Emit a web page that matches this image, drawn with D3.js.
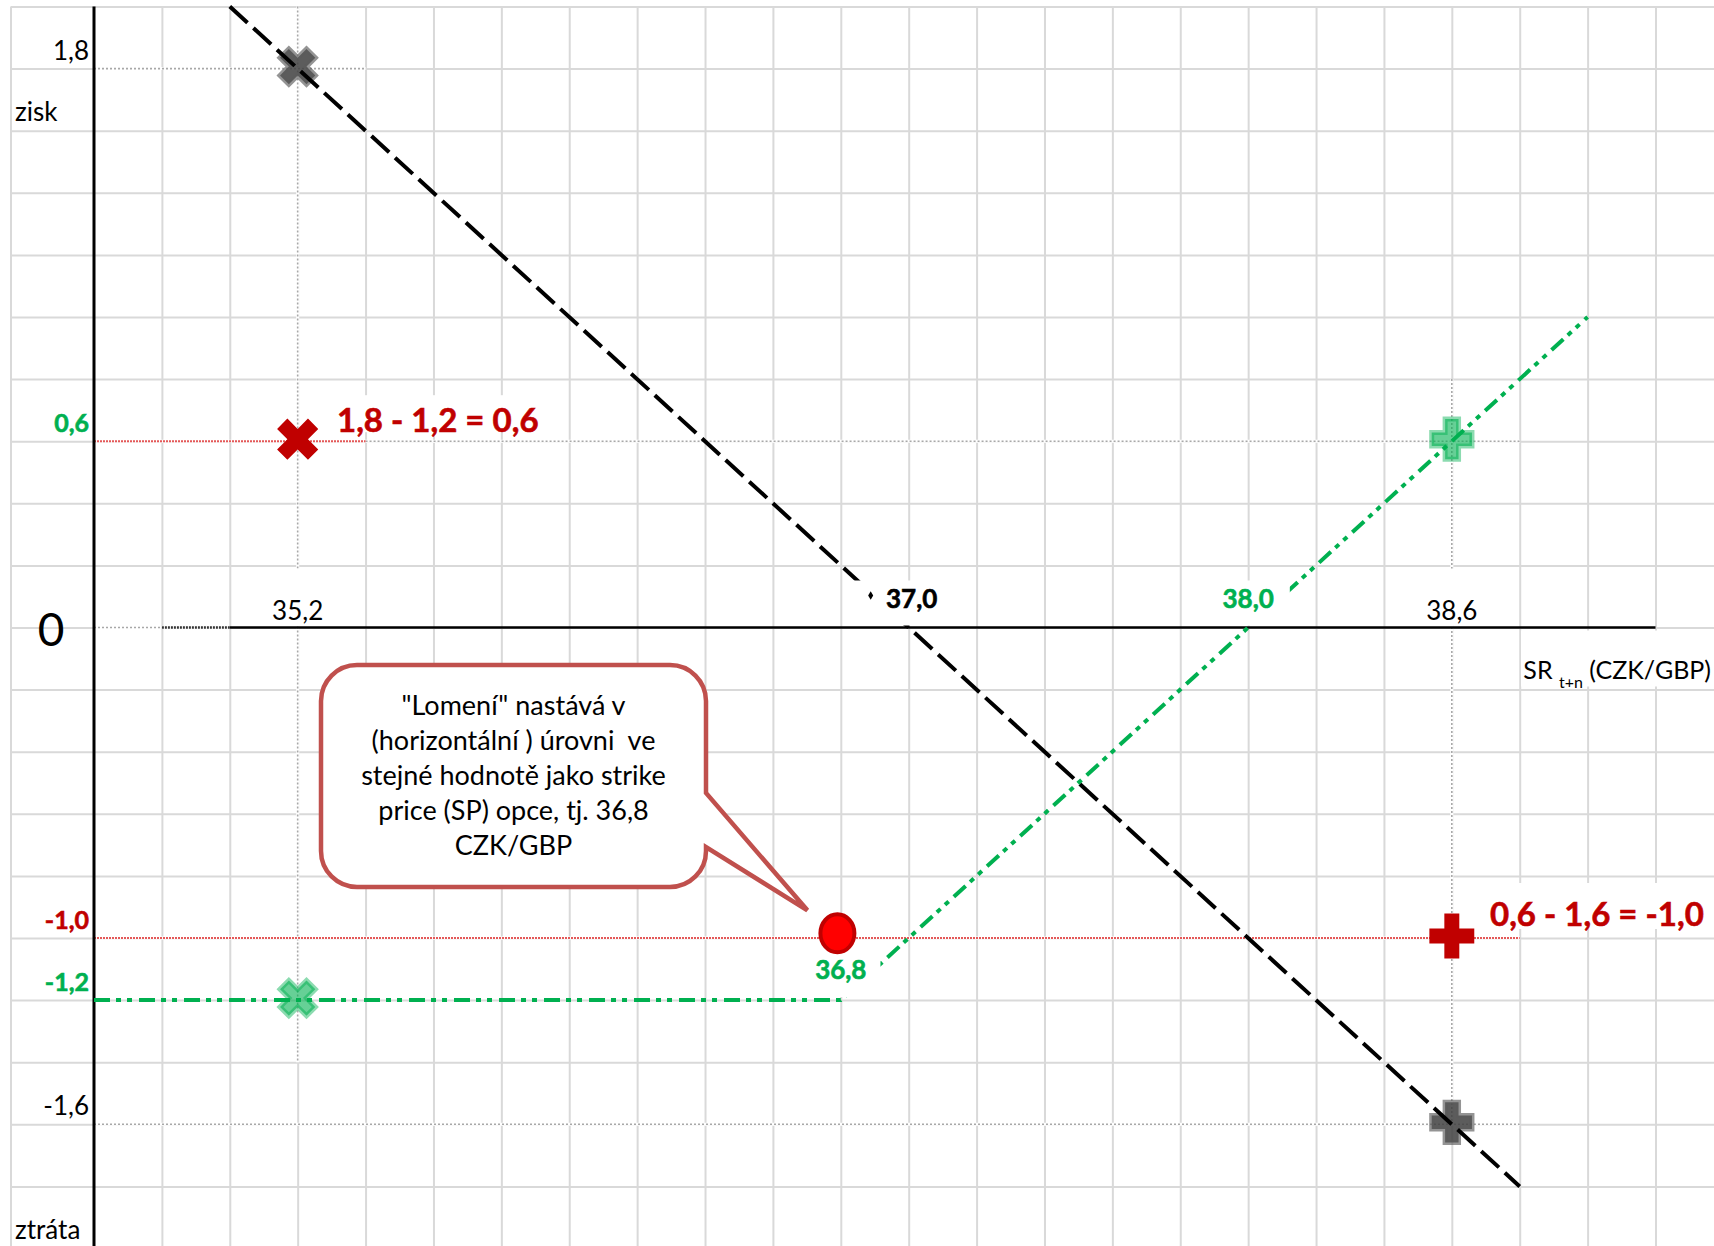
<!DOCTYPE html>
<html><head><meta charset="utf-8">
<script src="https://cdn.jsdelivr.net/npm/d3@7"></script>
<style>
html,body{margin:0;padding:0;background:#fff;}
svg{display:block;}
text{font-family:Lato,"Open Sans",sans-serif;}
</style></head><body>
<svg id="chart" width="1714" height="1246"></svg>
<script>
// ---------------- data ----------------
const blackLineX = [35.0, 38.8];
const blackLineY = [2.0, -1.8];
const greenLineX = [34.6, 36.8, 39.0];
const greenLineY = [-1.2, -1.2, 1.0];
const markerX = [35.2, 35.2, 35.2, 38.6, 38.6, 38.6];
const markerY = [1.8, 0.6, -1.2, 0.6, -1.0, -1.6];
const markerShape = ["x", "x", "x", "plus", "plus", "plus"];
const markerTone = ["gray", "red", "green", "green", "red", "gray"];
const kinkX = 36.79;
const kinkY = -0.985;
const yLabelValues = [1.8, 0.6, -1.0, -1.2, -1.6];
const yLabelTexts = ["1,8", "0,6", "-1,0", "-1,2", "-1,6"];
const yLabelTone = ["black", "green", "red", "green", "black"];
const xLabelValues = [35.2, 37.0, 38.0, 38.6];
const xLabelTexts = ["35,2", "37,0", "38,0", "38,6"];
const xLabelTone = ["black", "blackBold", "green", "black"];
const calloutLines = ["\"Lomení\" nastává v", "(horizontální ) úrovni  ve", "stejné hodnotě jako strike", "price (SP) opce, tj. 36,8", "CZK/GBP"];
const noteTop = "1,8 - 1,2 = 0,6";
const noteBottom = "0,6 - 1,6 = -1,0";
const kinkLabel = "36,8";
// helper reference segments [x1, x2, y1, y2, kind]
const helperX1 = [35.2, 38.6, 34.6, 35.4, 34.6, 34.6, 34.6, 34.6, 34.8];
const helperX2 = [35.2, 38.6, 35.4, 38.8, 38.8, 35.4, 38.8, 34.8, 35.0];
const helperY1 = [2.0, 0.8, 1.8, 0.6, -1.6, 0.6, -1.0, 0, 0];
const helperY2 = [-1.4, -1.6, 1.8, 0.6, -1.6, 0.6, -1.0, 0, 0];
const helperKind = ["dot", "dot", "dot", "dot", "dot", "red", "red", "dot", "darkdot"];

// ---------------- setup ----------------
const W = 1714, H = 1246;
const svg = d3.select("#chart");
const x = d3.scaleLinear().domain([34.6, 39.2]).range([94, 1655.5]);
const y = d3.scaleLinear().domain([-2, 2]).range([1248.5, 6.5]);
const C = {green: "#00b050", red: "#c00000", grid: "#d9d9d9"};

// ---------------- grid ----------------
const xGrid = d3.range(0, 23).map(i => +(34.8 + i * 0.2).toFixed(1));
const yGrid = d3.range(0, 20).map(i => +(-1.8 + i * 0.2).toFixed(1));
const gx = svg.append("g").attr("transform", `translate(0,${y(2)})`)
  .call(d3.axisBottom(x).tickValues(xGrid).tickSize(H - y(2)).tickFormat(""));
gx.select(".domain").remove();
gx.selectAll("line").attr("stroke", C.grid).attr("stroke-width", 2);
const gy = svg.append("g").attr("transform", `translate(11,0)`)
  .call(d3.axisRight(y).tickValues(yGrid.concat([2.0])).tickSize(W - 11).tickFormat(""));
gy.select(".domain").remove();
gy.selectAll("line").attr("stroke", C.grid).attr("stroke-width", 2);
svg.append("line").attr("x1", 11).attr("x2", 11).attr("y1", y(2)).attr("y2", H)
  .attr("stroke", C.grid).attr("stroke-width", 2);

// helper segments
const helpers = helperX1.map((d, i) => ({x1: d, x2: helperX2[i], y1: helperY1[i], y2: helperY2[i], k: helperKind[i]}));
const hg = svg.append("g");
helpers.forEach(h => {
  hg.append("line").attr("x1", x(h.x1)).attr("x2", x(h.x2)).attr("y1", y(h.y1)).attr("y2", y(h.y2))
    .attr("stroke", "#fff").attr("stroke-width", 3);
  const l = hg.append("line").attr("x1", x(h.x1)).attr("x2", x(h.x2)).attr("y1", y(h.y1)).attr("y2", y(h.y2));
  if (h.k === "red") l.attr("stroke", "#e03c3c").attr("stroke-width", 2).attr("stroke-dasharray", "2,1").attr("opacity", 0.85);
  else if (h.k === "darkdot") l.attr("stroke", "#333").attr("stroke-width", 2.5).attr("stroke-dasharray", "2,1");
  else l.attr("stroke", "#a8a8a8").attr("stroke-width", 1.6).attr("stroke-dasharray", "2,2");
});

// axes
svg.append("line").attr("x1", x(34.6)).attr("x2", x(34.6)).attr("y1", y(2)).attr("y2", H)
  .attr("stroke", "#000").attr("stroke-width", 3);
svg.append("line").attr("x1", x(35.0)).attr("x2", x(39.2)).attr("y1", y(0)).attr("y2", y(0))
  .attr("stroke", "#000").attr("stroke-width", 2.5);

// ---------------- markers ----------------
const tone = {
  gray: {fill: "#404040", fo: 0.85, stroke: "#5a5a5a", so: 0.65, sw: 5},
  red: {fill: C.red, fo: 1, stroke: "none", so: 0, sw: 0},
  green: {fill: C.green, fo: 0.6, stroke: C.green, so: 0.45, sw: 5}
};
const mg = svg.append("g");
markerX.forEach((mx, i) => {
  const t = tone[markerTone[i]];
  const isX = markerShape[i] === "x";
  const size = isX ? (t.sw ? 780 : 1060) : (t.sw ? 900 : 1120);
  mg.append("path")
    .attr("d", d3.symbol().type(d3.symbolCross).size(size)())
    .attr("transform", `translate(${x(mx)},${y(markerY[i]) - 2}) rotate(${isX ? 45 : 0})`)
    .attr("fill", t.fill).attr("fill-opacity", t.fo)
    .attr("stroke", t.stroke).attr("stroke-opacity", t.so).attr("stroke-width", t.sw)
    .attr("stroke-linejoin", "miter");
});

// ---------------- lines ----------------
const line = d3.line().x(d => x(d[0])).y(d => y(d[1]));
svg.append("path").datum(blackLineX.map((d, i) => [d, blackLineY[i]]))
  .attr("d", line).attr("fill", "none").attr("stroke", "#000").attr("stroke-width", 4)
  .attr("stroke-dasharray", "24,8");
svg.append("path").datum(greenLineX.map((d, i) => [d, greenLineY[i]]))
  .attr("d", line).attr("fill", "none").attr("stroke", C.green).attr("stroke-width", 4)
  .attr("stroke-dasharray", "16,6,5,6,5,7");

// ---------------- labels ----------------
function label(txt, px, py, opt) {
  const g = svg.append("g");
  const col = opt.color || "#000";
  const t = g.append("text").attr("x", px).attr("y", py)
    .attr("text-anchor", opt.anchor || "middle")
    .attr("font-size", opt.size).attr("font-weight", opt.bold ? 700 : 400)
    .attr("fill", col).text(txt);
  if (opt.bold) t.attr("stroke", col).attr("stroke-width", 0.6);
  if (opt.bg) {
    const b = t.node().getBBox();
    const p = opt.bg;
    g.insert("rect", "text").attr("x", b.x - p[0]).attr("y", b.y - p[2])
      .attr("width", b.width + p[0] + p[1]).attr("height", b.height + p[2] + p[3]).attr("fill", "#fff");
  }
  return t;
}
const toneColor = {black: "#000", blackBold: "#000", green: C.green, red: C.red};

// y labels
yLabelValues.forEach((v, i) => {
  const tn = yLabelTone[i];
  label(yLabelTexts[i], 89, y(v) - 9, {anchor: "end", size: tn === "black" ? 26 : 25, bold: tn !== "black", color: toneColor[tn]});
});
label("0", 51, y(0) + 18, {size: 46});
label("zisk", 15, 121, {anchor: "start", size: 26});
label("ztráta", 15, 1239, {anchor: "start", size: 26});

// x labels
xLabelValues.forEach((v, i) => {
  const tn = xLabelTone[i];
  const bold = tn !== "black";
  label(xLabelTexts[i], x(v) + (tn === "blackBold" ? 3 : 0), bold ? y(0) - 20 : y(0) - 8,
    {size: 26, bold: bold, color: toneColor[tn],
     bg: bold ? (tn === "blackBold" ? [36, 4, 1, 12] : [12, 16, 1, 12]) : [8, 8, 25, 0]});
  if (tn === "blackBold") {
    svg.append("path").attr("d", d3.symbol().type(d3.symbolDiamond).size(22)())
      .attr("transform", `translate(${x(v) - 38},${y(0) - 32})`).attr("fill", "#000");
  }
});

// axis title
const sr = svg.append("g");
sr.append("rect").attr("x", 1521).attr("y", y(0) + 3).attr("width", W - 1521).attr("height", 56).attr("fill", "#fff");
const srt = sr.append("text").attr("x", 1711).attr("y", y(0) + 51).attr("text-anchor", "end").attr("font-size", 25)
  .attr("xml:space", "preserve").style("white-space", "pre");
srt.append("tspan").text("SR ");
srt.append("tspan").attr("font-size", 16).attr("dy", 9).text("t+n");
srt.append("tspan").attr("dy", -9).text(" (CZK/GBP)");

// notes
label(noteTop, 337, y(0.6) - 9, {anchor: "start", size: 33, bold: true, color: C.red, bg: [12, 22, 4, -7]});
label(noteBottom, 1490, y(-1.0) - 12, {anchor: "start", size: 33, bold: true, color: C.red, bg: [10, 30, 10, -4]});

// kink label
label(kinkLabel, x(36.8), y(-1.0) + 41, {size: 26, bold: true, color: C.green, bg: [7, 14, 2, 12]});

// ---------------- callout ----------------
const L = 321, R = 706, T = 665, B = 887, r = 36;
const tipX = x(kinkX) - 30, tipY = y(kinkY) - 23;
const py1 = 793, py2 = 847;
const cpath = `M${L + r},${T} H${R - r} A${r},${r} 0 0 1 ${R},${T + r} V${py1} L${tipX},${tipY} L${R},${py2} V${B - r} A${r},${r} 0 0 1 ${R - r},${B} H${L + r} A${r},${r} 0 0 1 ${L},${B - r} V${T + r} A${r},${r} 0 0 1 ${L + r},${T} Z`;
svg.append("path").attr("d", cpath).attr("fill", "#fff").attr("stroke", "#c0504d").attr("stroke-width", 4.5)
  .attr("stroke-linejoin", "miter");
const ct = svg.append("text").attr("text-anchor", "middle").attr("font-size", 27).attr("fill", "#000")
  .attr("xml:space", "preserve").style("white-space", "pre");
calloutLines.forEach((s, i) => {
  ct.append("tspan").attr("x", (L + R) / 2).attr("y", 715 + i * 35).text(s);
});

// kink point
svg.append("ellipse").attr("cx", x(kinkX)).attr("cy", y(kinkY)).attr("rx", 17).attr("ry", 19)
  .attr("fill", "#ff0000").attr("stroke", "#c00000").attr("stroke-width", 4);
</script>
</body></html>
